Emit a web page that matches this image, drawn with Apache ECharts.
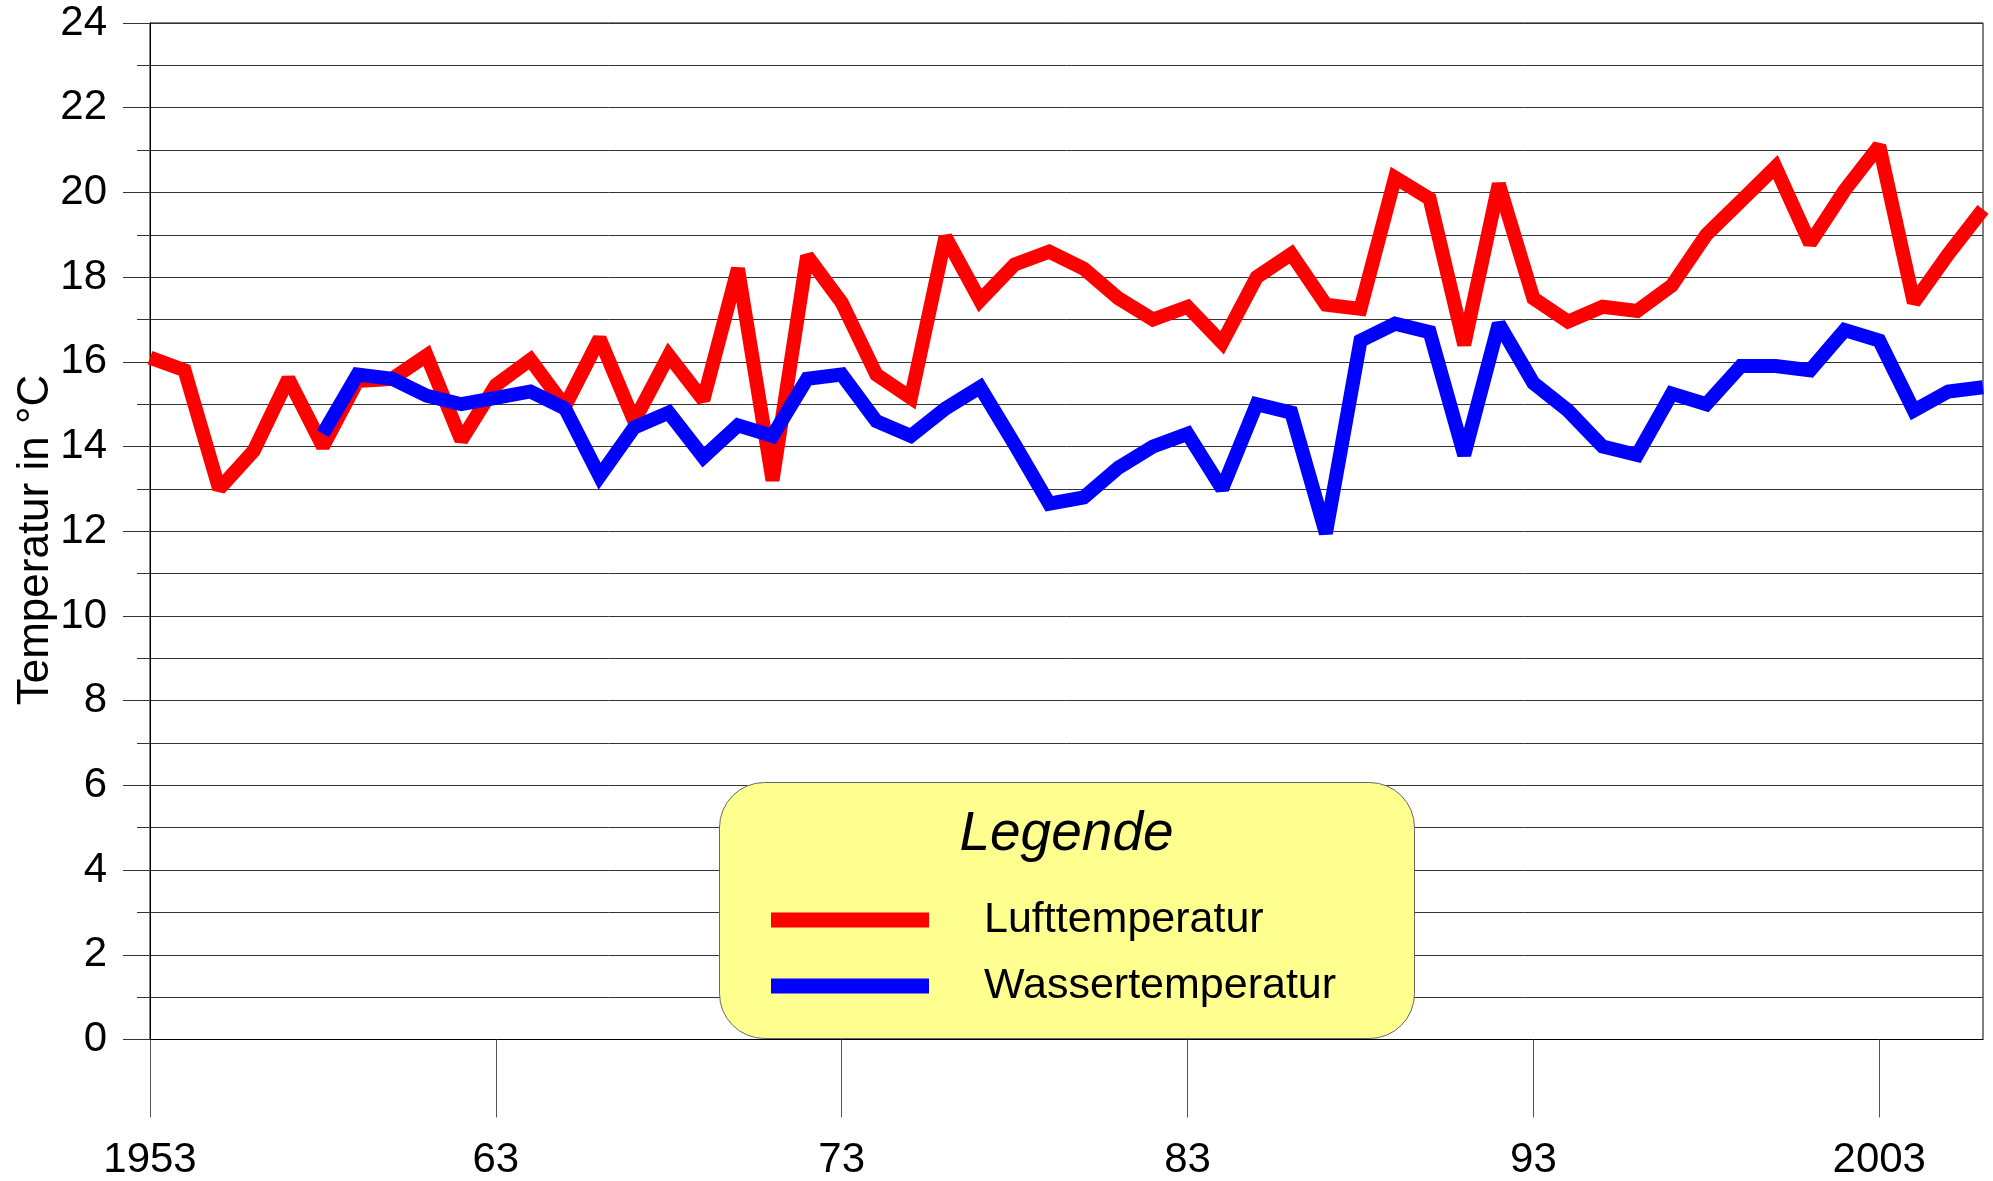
<!DOCTYPE html>
<html>
<head>
<meta charset="utf-8">
<script src="https://cdn.jsdelivr.net/npm/echarts@6/dist/echarts.min.js"></script>
<style>
html,body{margin:0;padding:0;background:#fff;}
#c{width:1993px;height:1181px;}
</style>
</head>
<body>
<div id="c"></div>
<script>
// ---- data ----
const years = [1953,1954,1955,1956,1957,1958,1959,1960,1961,1962,
  1963,1964,1965,1966,1967,1968,1969,1970,1971,1972,
  1973,1974,1975,1976,1977,1978,1979,1980,1981,1982,
  1983,1984,1985,1986,1987,1988,1989,1990,1991,1992,
  1993,1994,1995,1996,1997,1998,1999,2000,2001,2002,
  2003,2004,2005,2006];

const lufttemperatur = [16.1,15.8,13.0,13.9,15.6,14.0,15.55,15.6,16.15,14.15,
  15.45,16.05,14.95,16.55,14.6,16.15,15.1,18.2,13.2,18.5,
  17.4,15.7,15.15,18.95,17.45,18.3,18.6,18.2,17.5,17.0,
  17.3,16.45,18.0,18.55,17.35,17.25,20.35,19.85,16.4,20.2,
  17.5,16.95,17.3,17.2,17.8,19.0,19.8,20.6,18.8,20.05,
  21.1,17.4,18.55,19.6];

const wassertemperatur = [null,null,null,null,null,14.3,15.7,15.6,15.2,15.0,
  15.15,15.3,14.9,13.3,14.45,14.8,13.75,14.5,14.25,15.6,
  15.7,14.6,14.25,14.9,15.4,14.05,12.65,12.8,13.5,14.0,
  14.3,13.0,15.0,14.8,11.95,16.5,16.9,16.7,13.8,16.9,
  15.5,14.85,14.0,13.8,15.25,15.0,15.9,15.9,15.8,16.75,
  16.5,14.85,15.3,15.4];

const xTickYears = [1953,1963,1973,1983,1993,2003];
const xTickLabels = ['1953','63','73','83','93','2003'];

const seriesNames = ['Lufttemperatur','Wassertemperatur'];
const seriesColors = ['#ff0000','#0000ff'];
const yAxisName = 'Temperatur in °C';
const legendTitle = 'Legende';

// ---- chart ----
const FONT = '"Liberation Sans", Arial, Helvetica, sans-serif';
const chart = echarts.init(document.getElementById('c'), null, {renderer:'canvas'});
const isTick = (idx, val) => xTickYears.indexOf(Number(val)) >= 0;

const option = {
  animation: false,
  backgroundColor: '#ffffff',
  textStyle: {fontFamily: FONT},
  grid: {left:150, right:10, top:23, bottom:141.5, containLabel:false, outerBoundsMode:'none',
    show:true, borderColor:'#000', borderWidth:1, backgroundColor:'transparent'},
  xAxis: {
    type:'category', data: years.map(String), boundaryGap:false,
    axisLine:{show:true, lineStyle:{color:'#000', width:1}},
    axisTick:{show:true, interval:isTick, length:78, lineStyle:{color:'#555'}},
    axisLabel:{interval:isTick, margin:100, fontSize:42, color:'#000', fontFamily:FONT,
      formatter: v => xTickLabels[xTickYears.indexOf(Number(v))]},
    splitLine:{show:false}
  },
  yAxis: {
    type:'value', min:0, max:24, interval:2,
    axisLine:{show:true, lineStyle:{color:'#000'}},
    axisTick:{show:true, length:27, lineStyle:{color:'#333'}},
    minorTick:{show:true, splitNumber:2, length:13, lineStyle:{color:'#333'}},
    splitLine:{show:true, lineStyle:{color:'#333'}},
    minorSplitLine:{show:true, lineStyle:{color:'#333'}},
    axisLabel:{margin:43, fontSize:42, color:'#000', fontFamily:FONT, padding:[6,0,0,0]}
  },
  legend: {
    orient:'vertical', left:771, top:895, padding:0, itemGap:16,
    itemWidth:158, itemHeight:15, icon:'rect', selectedMode:false,
    textStyle:{fontSize:43, color:'#000', fontFamily:FONT, lineHeight:42, padding:[8,0,0,50]},
    data: seriesNames, z:6
  },
  graphic: [
    {type:'text', x:36, y:540, rotation:Math.PI/2, z:7,
      style:{text:yAxisName, fontSize:44, fontFamily:FONT, fill:'#000', align:'center', verticalAlign:'middle'}},
    {type:'rect', left:719, top:782, z:1,
      shape:{width:695, height:256, r:45},
      style:{fill:'#ffff8f', stroke:'#666', lineWidth:1}},
    {type:'text', x:1066.5, y:835, z:7,
      style:{text:legendTitle, fontSize:55, fontStyle:'italic', fontFamily:FONT, fill:'#000', align:'center', verticalAlign:'middle'}}
  ],
  series: [
    {name:seriesNames[0], type:'line', data:lufttemperatur, showSymbol:false, symbol:'none', clip:false,
      lineStyle:{color:seriesColors[0], width:14, join:'miter', miterLimit:2, cap:'butt'}, itemStyle:{color:seriesColors[0]}, z:3},
    {name:seriesNames[1], type:'line', data:wassertemperatur, showSymbol:false, symbol:'none', clip:false,
      lineStyle:{color:seriesColors[1], width:14, join:'miter', miterLimit:2, cap:'butt'}, itemStyle:{color:seriesColors[1]}, z:4}
  ]
};
chart.setOption(option);
</script>
</body>
</html>
